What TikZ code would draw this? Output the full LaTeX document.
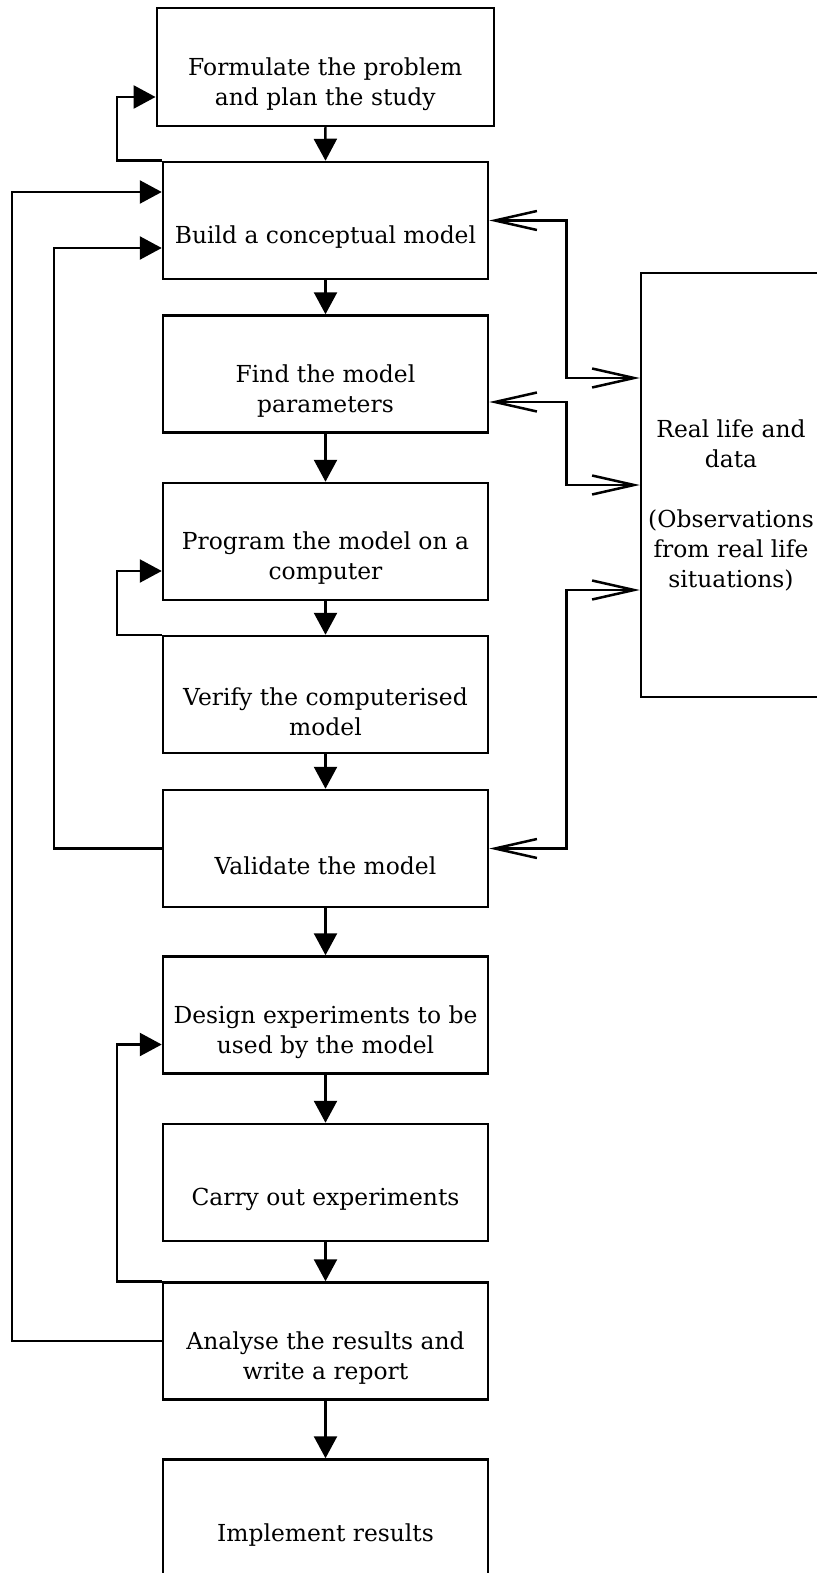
\documentclass[tikz,border=0pt]{standalone}
\usepackage{fontspec}
\setmainfont{DejaVu Serif}
\usetikzlibrary{arrows.meta,calc}

\begin{document}
\begin{tikzpicture}[x=0.5pt,y=-0.5pt,line width=1.25pt,
  box/.style={draw,minimum width=162.5pt,minimum height=58.5pt,
    label={[txt]center:#1}},
  txt/.style={align=center,font=\fontsize{11.7}{15}\selectfont,yshift=-8.5pt},
  flow/.style={-{Triangle[length=11pt,width=11.5pt]}},
  both/.style={{Straight Barb[length=21pt,width=9.5pt]}-{Straight Barb[length=21pt,width=9.5pt]}}]
  \clip (0,0) rectangle (817,1573);
  % main column of steps
  \node[box={Formulate the problem\\and plan the study},minimum width=168.5pt,
    minimum height=59pt] (formulate) at (325.3,67) {};
  \node[box={Build a conceptual model}] (build) at (325.5,220.5) {};
  \node[box={Find the model\\parameters}] (params) at (325.5,374) {};
  \node[box={Program the model on a\\computer}] (program) at (325.5,541.5) {};
  \node[box={Verify the computerised\\model}] (verify) at (325.5,694.5) {};
  \node[box={Validate the model}] (validate) at (325.5,848.5) {};
  \node[box={Design experiments to be\\used by the model}] (design) at (325.5,1015) {};
  \node[box={Carry out experiments}] (carry) at (325.5,1182.5) {};
  \node[box={Analyse the results and\\write a report}] (analyse) at (325.5,1341) {};
  \node[box={Implement results}] (implement) at (325.5,1518) {};
  % data source on the right
  \node[draw,minimum width=90pt,minimum height=212pt,
    label={[txt,yshift=-1.5pt]center:{Real life and\\data\\[15pt](Observations\\from real life\\situations)}}]
    (reallife) at (731,485) {};
  % straight flow down
  \foreach \a/\b in {formulate/build,build/params,params/program,program/verify,
    verify/validate,validate/design,design/carry,carry/analyse,analyse/implement}
    \draw[flow] (\a.south) -- (\b.north);
  % loops back on the left
  \draw[flow] (build.north west) -- ++(-45,0) |- ($(formulate.west)+(0,30)$);
  \draw[flow] (analyse.west) -- ++(-150,0) |- ($(build.west)+(0,-28.5)$);
  \draw[flow] (validate.west) -- ++(-108,0) |- ($(build.west)+(0,27.5)$);
  \draw[flow] (verify.north west) -- ++(-45,0) |- ($(program.west)+(0,29.5)$);
  \draw[flow] (analyse.north west) -- ++(-45,0) |- ($(design.west)+(0,29.5)$);
  % exchange with real life
  \draw[both] (build.east) -- ++(77,0) |- ($(reallife.west)+(0,-107)$);
  \draw[both] ($(params.east)+(0,28)$) -- ++(77,0) |- (reallife.west);
  \draw[both] (validate.east) -- ++(77,0) |- ($(reallife.west)+(0,105)$);
\end{tikzpicture}
\end{document}
